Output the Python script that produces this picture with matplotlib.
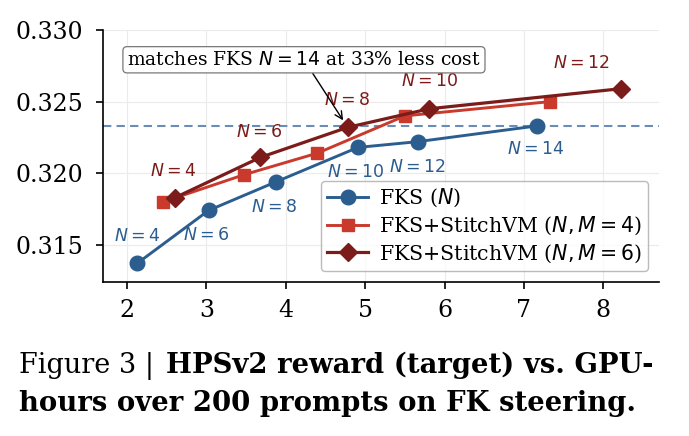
import matplotlib
matplotlib.use("Agg")
import matplotlib.pyplot as plt

# ---- data ----
fks_x = [2.13, 3.03, 3.88, 4.91, 5.66, 7.16]
fks_y = [0.3137, 0.3174, 0.3194, 0.3218, 0.3222, 0.3233]
fks_N = [4, 6, 8, 10, 12, 14]

m4_x = [2.46, 3.48, 4.40, 5.50, 7.33]
m4_y = [0.3180, 0.3199, 0.3214, 0.3240, 0.3250]

m6_x = [2.61, 3.68, 4.78, 5.81, 8.22]
m6_y = [0.3183, 0.3211, 0.3232, 0.3245, 0.3259]
m6_N = [4, 6, 8, 10, 12]

ref_line = 0.3233
xticks = [2, 3, 4, 5, 6, 7, 8]
yticks = [0.315, 0.320, 0.325, 0.330]

# ---- style ----
C_BLUE = "#2c5d8f"
C_RED = "#c9392c"
C_DARK = "#7b1c1a"

plt.rcParams["font.family"] = "DejaVu Serif"
plt.rcParams["mathtext.fontset"] = "dejavusans"

fig = plt.figure(figsize=(6.89, 4.36), dpi=100)
ax = fig.add_axes([103/689, 1-282/436, (659-103)/689, (282-30)/436])

ax.plot(fks_x, fks_y, "-o", color=C_BLUE, lw=2.1, ms=10.5, label="FKS ($N$)", zorder=4)
ax.plot(m4_x, m4_y, "-s", color=C_RED, lw=2.1, ms=9, label="FKS+StitchVM ($N, M=4$)", zorder=4)
ax.plot(m6_x, m6_y, "-D", color=C_DARK, lw=2.3, ms=9.5, label="FKS+StitchVM ($N, M=6$)", zorder=5)

ax.axhline(ref_line, color="#6a8db8", ls=(0, (4, 2.5)), lw=1.5, zorder=2)

# labels for FKS (blue)
blue_off = [(0, 27), (-2, -25), (-2, -26), (-2, -25), (0, -26), (-1, -24)]
for x, y, n, (dx, dy) in zip(fks_x, fks_y, fks_N, blue_off):
    ax.annotate(f"$N={n}$", (x, y), xytext=(dx, dy), textcoords="offset pixels",
                ha="center", va="center", color=C_BLUE, fontsize=12.5, zorder=6)

dark_off = [(-2, 26), (-1, 25), (-1, 27), (0, 27), (-40, 25)]
for x, y, n, (dx, dy) in zip(m6_x, m6_y, m6_N, dark_off):
    ax.annotate(f"$N={n}$", (x, y), xytext=(dx, dy), textcoords="offset pixels",
                ha="center", va="center", color=C_DARK, fontsize=12.5, zorder=6)

ax.annotate("matches FKS $N=14$ at 33% less cost", xy=(m6_x[2], m6_y[2]),
            xytext=(4.23, 0.32792), textcoords="data", ha="center", va="center",
            fontsize=13.5,
            bbox=dict(boxstyle="round,pad=0.22", fc="white", ec="#777777", lw=0.9),
            arrowprops=dict(arrowstyle="->", color="black", lw=1.0, shrinkA=0, shrinkB=6),
            zorder=7)

ax.set_xlim(1.70, 8.70)
ax.set_ylim(0.3124, 0.3300)
ax.set_xticks(xticks)
ax.set_xticklabels([str(t) for t in xticks])
ax.set_yticks(yticks)
ax.set_yticklabels([f"{t:.3f}" for t in yticks])
ax.tick_params(axis="y", labelsize=17, length=5, width=1.2, pad=9)
ax.tick_params(axis="x", labelsize=17, length=5, width=1.2, pad=7)
ax.grid(True, color="#ebebeb", lw=0.8, zorder=0)
for s in ["top", "right"]:
    ax.spines[s].set_visible(False)
for s in ["left", "bottom"]:
    ax.spines[s].set_linewidth(1.2)

leg = ax.legend(loc="lower right", fontsize=14.8, frameon=True, fancybox=True,
                handlelength=2.0, borderaxespad=0.55, labelspacing=0.25,
                handletextpad=0.5, borderpad=0.3)
leg.get_frame().set_edgecolor("#aaaaaa")
leg.get_frame().set_linewidth(1.0)

# caption
fig.canvas.draw()
r = fig.canvas.get_renderer()
cap_fam = "DejaVu Serif"
line1_a = "Figure 3 |"
line1_b = "HPSv2 reward (target) vs. GPU-"
line2 = "hours over 200 prompts on FK steering."
fs_reg = 19.5
y1 = 1 - 373/436
y2 = 1 - 411/436
t1 = fig.text(19/689, y1, line1_a, fontsize=fs_reg, family=cap_fam,
              ha="left", va="baseline")
bb = t1.get_window_extent(renderer=r)
x_bold = bb.x1 + 12
fs_b = 16.0
tb = fig.text(0, 0, line2, fontsize=fs_b, family=cap_fam, weight="bold")
wb = tb.get_window_extent(renderer=r).width
tb.remove()
fs_b = fs_b * (636 - 19) / wb
fig.text(x_bold/689, y1, line1_b, fontsize=fs_b,
         family=cap_fam, weight="bold", ha="left", va="baseline")
fig.text(19/689, y2, line2, fontsize=fs_b,
         family=cap_fam, weight="bold", ha="left", va="baseline")

fig.savefig("out.png", dpi=100)
